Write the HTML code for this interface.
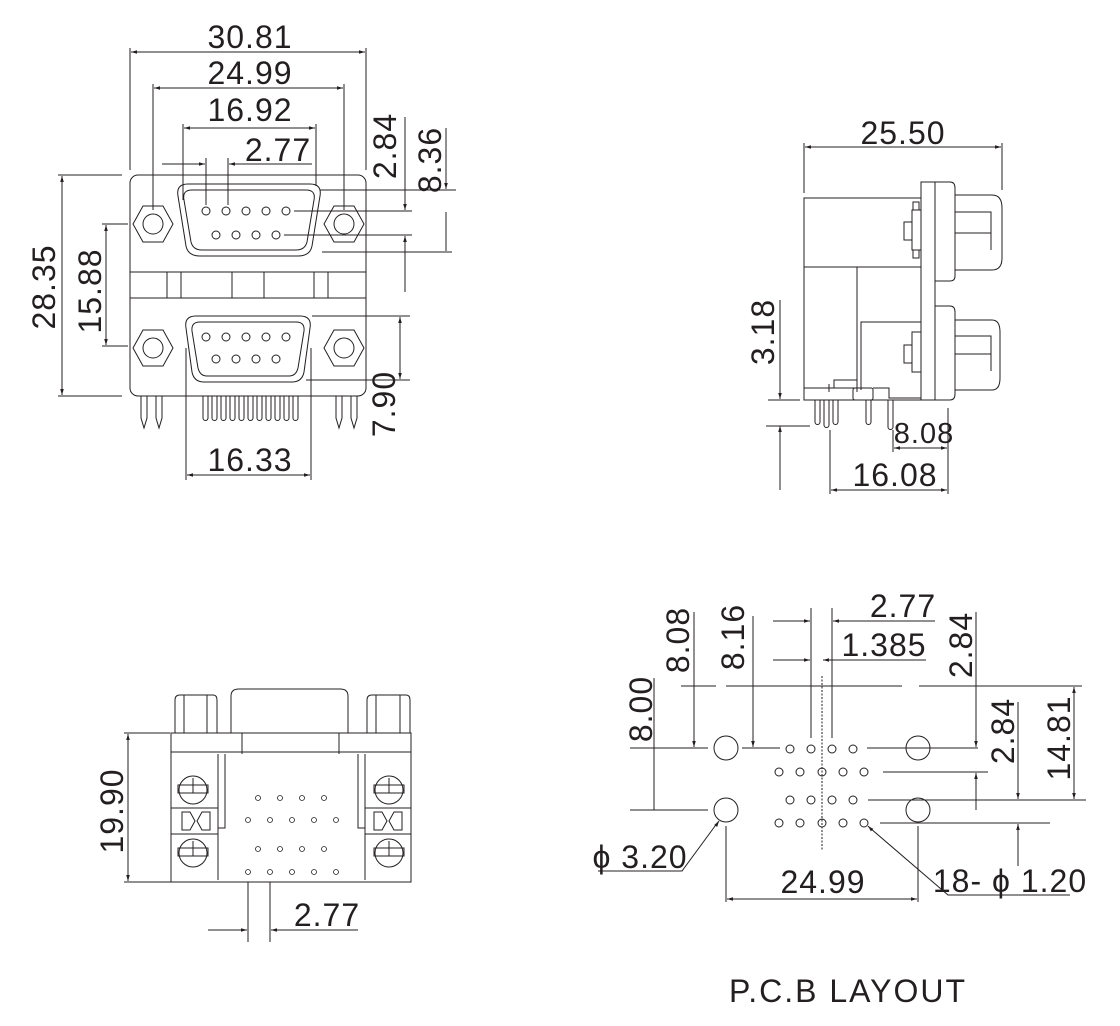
<!DOCTYPE html>
<html><head><meta charset="utf-8"><style>
html,body{margin:0;padding:0;background:#fff}
svg{display:block}
text{font-family:"Liberation Sans",sans-serif;fill:#231f20;letter-spacing:1px}
</style></head><body>
<svg width="1120" height="1026" viewBox="0 0 1120 1026" xmlns="http://www.w3.org/2000/svg">
<defs>
<marker id="a" viewBox="0 0 10 10" refX="10" refY="5" markerWidth="6" markerHeight="6" orient="auto-start-reverse"><path d="M0,2 L10,5 L0,8z" fill="#231f20"/></marker>
</defs>
<g stroke="#231f20" stroke-width="1" fill="none">
<rect x="130" y="175" width="236" height="221" rx="8"/>
<line x1="130" y1="272" x2="366" y2="272"/><line x1="130" y1="298" x2="366" y2="298"/>
<line x1="167" y1="272" x2="167" y2="298"/><line x1="181" y1="272" x2="181" y2="298"/>
<line x1="232" y1="272" x2="232" y2="298"/><line x1="264" y1="272" x2="264" y2="298"/>
<line x1="314" y1="272" x2="314" y2="298"/><line x1="328" y1="272" x2="328" y2="298"/>
<path d="M188,184 H310 Q322,184 320,196 L312,246 Q310,256 298,256 H200 Q188,256 186,246 L178,196 Q176,184 188,184z"/>
<path d="M192,190 H306 Q316,190 314,200 L307,242 Q305,250 296,250 H202 Q193,250 191,242 L184,200 Q182,190 192,190z"/>
<path d="M196,316 H300 Q312,316 310,328 L304,372 Q302,382 292,382 H204 Q194,382 192,372 L186,328 Q184,316 196,316z"/>
<path d="M200,322 H296 Q305,322 304,331 L298,368 Q296,376 289,376 H207 Q200,376 198,368 L192,331 Q191,322 200,322z"/>
<g>
<circle cx="206" cy="211" r="4"/><circle cx="226" cy="211" r="4"/><circle cx="246" cy="211" r="4"/><circle cx="266" cy="211" r="4"/><circle cx="286" cy="211" r="4"/>
<circle cx="216" cy="235" r="4"/><circle cx="236" cy="235" r="4"/><circle cx="256" cy="235" r="4"/><circle cx="276" cy="235" r="4"/>
<circle cx="206" cy="337" r="4"/><circle cx="226" cy="337" r="4"/><circle cx="246" cy="337" r="4"/><circle cx="266" cy="337" r="4"/><circle cx="286" cy="337" r="4"/>
<circle cx="216" cy="359" r="4"/><circle cx="236" cy="359" r="4"/><circle cx="256" cy="359" r="4"/><circle cx="276" cy="359" r="4"/>
</g>
<g id="hex"><polygon points="143,206 163,206 173,224 163,242 143,242 133,224"/><circle cx="153" cy="224" r="10"/></g>
<use href="#hex" x="191" y="0"/><use href="#hex" x="0" y="124"/><use href="#hex" x="191" y="124"/>
<path d="M141,396 V418 L144,428 L147,418 V396 M156,396 V418 L159,428 L162,418 V396"/>
<path d="M336,396 V418 L339,428 L342,418 V396 M351,396 V418 L354,428 L357,418 V396"/>
<path d="M203,396v22a2.5,2.5 0 0 0 5,0v-22 M212,396v22a2.5,2.5 0 0 0 5,0v-22 M221,396v22a2.5,2.5 0 0 0 5,0v-22 M230,396v22a2.5,2.5 0 0 0 5,0v-22 M239,396v22a2.5,2.5 0 0 0 5,0v-22 M248,396v22a2.5,2.5 0 0 0 5,0v-22 M257,396v22a2.5,2.5 0 0 0 5,0v-22 M266,396v22a2.5,2.5 0 0 0 5,0v-22 M275,396v22a2.5,2.5 0 0 0 5,0v-22 M284,396v22a2.5,2.5 0 0 0 5,0v-22 M293,396v22a2.5,2.5 0 0 0 5,0v-22"/>
<line x1="130" y1="170" x2="130" y2="48"/><line x1="366" y1="170" x2="366" y2="48"/>
<line x1="131" y1="52" x2="365" y2="52" marker-start="url(#a)" marker-end="url(#a)"/>
<line x1="153" y1="210" x2="153" y2="84"/><line x1="344" y1="210" x2="344" y2="84"/>
<line x1="154" y1="88" x2="343" y2="88" marker-start="url(#a)" marker-end="url(#a)"/>
<line x1="183" y1="200" x2="183" y2="124"/><line x1="316" y1="186" x2="316" y2="124"/>
<line x1="184" y1="128" x2="315" y2="128" marker-start="url(#a)" marker-end="url(#a)"/>
<line x1="206" y1="205" x2="206" y2="158"/><line x1="228" y1="205" x2="228" y2="158"/>
<line x1="162" y1="164" x2="205" y2="164" marker-end="url(#a)"/><line x1="312" y1="164" x2="229" y2="164" marker-end="url(#a)"/>
<line x1="320" y1="190" x2="456" y2="190"/><line x1="294" y1="211" x2="412" y2="211"/><line x1="284" y1="235" x2="412" y2="235"/><line x1="322" y1="252" x2="452" y2="252"/>
<line x1="405" y1="117" x2="405" y2="210" marker-end="url(#a)"/><line x1="405" y1="292" x2="405" y2="236" marker-end="url(#a)"/>
<line x1="446" y1="128" x2="446" y2="189" marker-end="url(#a)"/><line x1="446" y1="212" x2="446" y2="251"/>
<line x1="58" y1="175" x2="122" y2="175"/><line x1="58" y1="396" x2="122" y2="396"/>
<line x1="62" y1="176" x2="62" y2="395" marker-start="url(#a)" marker-end="url(#a)"/>
<line x1="102" y1="224" x2="128" y2="224"/><line x1="102" y1="346" x2="128" y2="346"/>
<line x1="106" y1="225" x2="106" y2="345" marker-start="url(#a)" marker-end="url(#a)"/>
<line x1="312" y1="316" x2="410" y2="316"/><line x1="306" y1="380" x2="410" y2="380"/>
<line x1="400" y1="317" x2="400" y2="379" marker-start="url(#a)" marker-end="url(#a)"/>
<line x1="186" y1="348" x2="186" y2="480"/><line x1="311" y1="348" x2="311" y2="480"/>
<line x1="187" y1="475" x2="310" y2="475" marker-start="url(#a)" marker-end="url(#a)"/>

<rect x="804" y="198" width="117" height="202"/>
<line x1="804" y1="267" x2="921" y2="267"/>
<line x1="857" y1="267" x2="857" y2="392"/>
<path d="M861,390 V322 H921"/>
<path d="M921,182 H935 V400 H921z"/>
<path d="M935,182 H950 Q955,182 955,188 V276 Q955,281 950,281 H935"/>
<path d="M935,306 H950 Q955,306 955,312 V394 Q955,400 950,400 H935"/>
<path d="M955,195 H992 Q1002,195 1002,208 V258 Q1002,270 992,270 H955"/>
<path d="M955,320 H992 Q1000,320 1000,332 V378 Q1000,390 992,390 H955"/>
<path d="M955,212 H991 V233 H955 M955,233 H991 V250"/>
<path d="M955,336 H991 V354 H955 M955,354 H991 V371"/>
<rect x="913" y="202" width="6" height="8"/><rect x="912" y="210" width="9" height="40"/><rect x="904" y="222" width="8" height="18"/><rect x="913" y="250" width="6" height="8"/>
<rect x="912" y="332" width="9" height="40"/><rect x="904" y="345" width="8" height="18"/>
<path d="M804,388 H857 M834,388 V380 H857 M829,392 V384"/>
<rect x="853" y="388" width="20" height="12" rx="2"/>
<path d="M873,388 H889 V398 H921"/>
<path d="M815,400v22a2,2 0 0 0 5,0v-22 M824,400v25a2,2 0 0 0 5,0v-25 M833,400v22a2,2 0 0 0 5,0v-22 M866,400v22a2,2 0 0 0 5,0v-22 M888,400v27a2,2 0 0 0 5,0v-27"/>
<line x1="804" y1="193" x2="804" y2="143"/><line x1="1002" y1="190" x2="1002" y2="143"/>
<line x1="805" y1="147" x2="1001" y2="147" marker-start="url(#a)" marker-end="url(#a)"/>
<line x1="780" y1="300" x2="780" y2="399" marker-end="url(#a)"/><line x1="780" y1="490" x2="780" y2="426" marker-end="url(#a)"/>
<line x1="768" y1="400" x2="800" y2="400"/><line x1="766" y1="426" x2="810" y2="426"/>
<line x1="948" y1="408" x2="948" y2="494"/><line x1="893" y1="430" x2="893" y2="452"/><line x1="830" y1="430" x2="830" y2="494"/>
<line x1="894" y1="448" x2="947" y2="448" marker-start="url(#a)" marker-end="url(#a)"/>
<line x1="831" y1="490" x2="947" y2="490" marker-start="url(#a)" marker-end="url(#a)"/>

<rect x="171" y="733" width="240" height="149"/>
<line x1="171" y1="752" x2="411" y2="752"/><line x1="242" y1="733" x2="242" y2="754"/><line x1="339" y1="733" x2="339" y2="754"/>
<path d="M175,733 V700 Q175,695 180,695 H213 Q217,695 217,700 V733 M184,695 V733 M207,695 V733"/>
<path d="M367,733 V700 Q367,695 372,695 H406 Q410,695 410,700 V733 M376,695 V733 M400,695 V733"/>
<path d="M231,733 V696 Q231,689 239,689 H340 Q348,689 348,696 V733"/>
<path d="M218,754 V880 M225,754 V828 H218 M365,754 V880 M358,754 V828 H365"/>
<path d="M171,808 H218 M171,834 H218 M365,808 H411 M365,834 H411"/>
<path d="M182,812 H190 L195,821 L190,830 H182z M210,812 H202 L197,821 L202,830 H210z"/>
<path d="M374,812 H382 L387,821 L382,830 H374z M402,812 H394 L389,821 L394,830 H402z"/>
<g id="scr"><circle cx="193" cy="790" r="14"/><path d="M178,785 H208 V793 H178z M193,778 V793"/></g>
<use href="#scr" x="196" y="0"/><use href="#scr" x="0" y="63"/><use href="#scr" x="196" y="63"/>
<g stroke-width="0.8">
<circle cx="258" cy="798" r="2.5"/><circle cx="280" cy="798" r="2.5"/><circle cx="302" cy="798" r="2.5"/><circle cx="324" cy="798" r="2.5"/>
<circle cx="248" cy="820" r="2.5"/><circle cx="270" cy="820" r="2.5"/><circle cx="292" cy="820" r="2.5"/><circle cx="314" cy="820" r="2.5"/><circle cx="336" cy="820" r="2.5"/>
<circle cx="258" cy="849" r="2.5"/><circle cx="280" cy="849" r="2.5"/><circle cx="302" cy="849" r="2.5"/><circle cx="324" cy="849" r="2.5"/>
<circle cx="248" cy="872" r="2.5"/><circle cx="270" cy="872" r="2.5"/><circle cx="292" cy="872" r="2.5"/><circle cx="314" cy="872" r="2.5"/><circle cx="336" cy="872" r="2.5"/>
</g>
<line x1="124" y1="733" x2="170" y2="733"/><line x1="124" y1="882" x2="185" y2="882"/>
<line x1="128" y1="734" x2="128" y2="881" marker-start="url(#a)" marker-end="url(#a)"/>
<line x1="248" y1="882" x2="248" y2="942"/><line x1="270" y1="882" x2="270" y2="942"/>
<line x1="208" y1="930" x2="247" y2="930" marker-end="url(#a)"/><line x1="358" y1="930" x2="271" y2="930" marker-end="url(#a)"/>

<circle cx="726" cy="748" r="12"/><circle cx="918" cy="748" r="12"/><circle cx="726" cy="810" r="12"/><circle cx="918" cy="810" r="12"/>
<g>
<circle cx="790" cy="749" r="4"/><circle cx="811" cy="749" r="4"/><circle cx="832" cy="749" r="4"/><circle cx="853" cy="749" r="4"/>
<circle cx="779" cy="772" r="4"/><circle cx="800" cy="772" r="4"/><circle cx="822" cy="772" r="4"/><circle cx="843" cy="772" r="4"/><circle cx="864" cy="772" r="4"/>
<circle cx="790" cy="800" r="4"/><circle cx="811" cy="800" r="4"/><circle cx="832" cy="800" r="4"/><circle cx="853" cy="800" r="4"/>
<circle cx="779" cy="823" r="4"/><circle cx="800" cy="823" r="4"/><circle cx="822" cy="823" r="4"/><circle cx="843" cy="823" r="4"/><circle cx="864" cy="823" r="4"/>
</g>
<line x1="822" y1="676" x2="822" y2="850" stroke-dasharray="2,1.5"/>
<line x1="811" y1="608" x2="811" y2="738"/><line x1="832" y1="608" x2="832" y2="738"/>
<line x1="773" y1="621" x2="810" y2="621" marker-end="url(#a)"/><line x1="935" y1="621" x2="833" y2="621" marker-end="url(#a)"/>
<line x1="773" y1="660" x2="810" y2="660" marker-end="url(#a)"/><line x1="926" y1="660" x2="823" y2="660" marker-end="url(#a)"/>
<line x1="681" y1="686" x2="716" y2="686"/><line x1="726" y1="686" x2="902" y2="686"/><line x1="919" y1="686" x2="1082" y2="686"/>
<line x1="694" y1="612" x2="694" y2="747" marker-end="url(#a)"/>
<line x1="753" y1="616" x2="753" y2="747" marker-end="url(#a)"/>
<line x1="654" y1="678" x2="654" y2="810"/>
<line x1="630" y1="748" x2="708" y2="748"/><line x1="742" y1="748" x2="780" y2="748"/><line x1="867" y1="748" x2="978" y2="748"/>
<line x1="630" y1="810" x2="708" y2="810"/>
<line x1="976" y1="612" x2="976" y2="747" marker-end="url(#a)"/>
<line x1="883" y1="772" x2="988" y2="772"/>
<line x1="976" y1="810" x2="976" y2="773" marker-end="url(#a)"/>
<line x1="868" y1="800" x2="1086" y2="800"/>
<line x1="1018" y1="702" x2="1018" y2="799" marker-end="url(#a)"/>
<line x1="1074" y1="687" x2="1074" y2="799" marker-start="url(#a)" marker-end="url(#a)"/>
<line x1="880" y1="823" x2="1050" y2="823"/>
<line x1="1018" y1="866" x2="1018" y2="824" marker-end="url(#a)"/>
<line x1="726" y1="826" x2="726" y2="902"/><line x1="918" y1="826" x2="918" y2="902"/>
<line x1="727" y1="899" x2="917" y2="899" marker-start="url(#a)" marker-end="url(#a)"/>
<path d="M598,871 H682 L718,822" /><line x1="717" y1="824" x2="719" y2="821" marker-end="url(#a)"/>
<path d="M1070,895 H948 L870,828"/><line x1="871" y1="829" x2="868" y2="826" marker-end="url(#a)"/>
</g>

<g font-size="32">
<text x="250" y="48" text-anchor="middle">30.81</text>
<text x="250" y="84" text-anchor="middle">24.99</text>
<text x="250" y="121" text-anchor="middle">16.92</text>
<text x="278" y="161" text-anchor="middle">2.77</text>
<text transform="translate(396,146) rotate(-90)" text-anchor="middle">2.84</text>
<text transform="translate(441,160) rotate(-90)" text-anchor="middle">8.36</text>
<text transform="translate(55,287) rotate(-90)" text-anchor="middle">28.35</text>
<text transform="translate(101,291) rotate(-90)" text-anchor="middle">15.88</text>
<text transform="translate(395,404) rotate(-90)" text-anchor="middle">7.90</text>
<text x="250" y="471" text-anchor="middle">16.33</text>
<text x="903" y="144" text-anchor="middle">25.50</text>
<text transform="translate(774,332) rotate(-90)" text-anchor="middle">3.18</text>
<text x="895" y="486" text-anchor="middle">16.08</text>
<text transform="translate(123,811) rotate(-90)" text-anchor="middle">19.90</text>
<text x="327" y="926" text-anchor="middle">2.77</text>
<text x="903" y="617" text-anchor="middle">2.77</text>
<text x="884" y="656" text-anchor="middle">1.385</text>
<text transform="translate(689,640) rotate(-90)" text-anchor="middle">8.08</text>
<text transform="translate(744,637) rotate(-90)" text-anchor="middle">8.16</text>
<text transform="translate(652,709) rotate(-90)" text-anchor="middle">8.00</text>
<text transform="translate(972,645) rotate(-90)" text-anchor="middle">2.84</text>
<text transform="translate(1014,731) rotate(-90)" text-anchor="middle">2.84</text>
<text transform="translate(1070,738) rotate(-90)" text-anchor="middle">14.81</text>
<text x="823" y="893" text-anchor="middle">24.99</text>
<text x="640" y="868" text-anchor="middle">ϕ 3.20</text>
<text x="1010" y="892" text-anchor="middle">18- ϕ 1.20</text>
</g>
<text x="924" y="443" text-anchor="middle" font-size="29">8.08</text>
<text x="848" y="1002" text-anchor="middle" font-size="32" style="letter-spacing:2px">P.C.B  LAYOUT</text>
</svg>
</body></html>
